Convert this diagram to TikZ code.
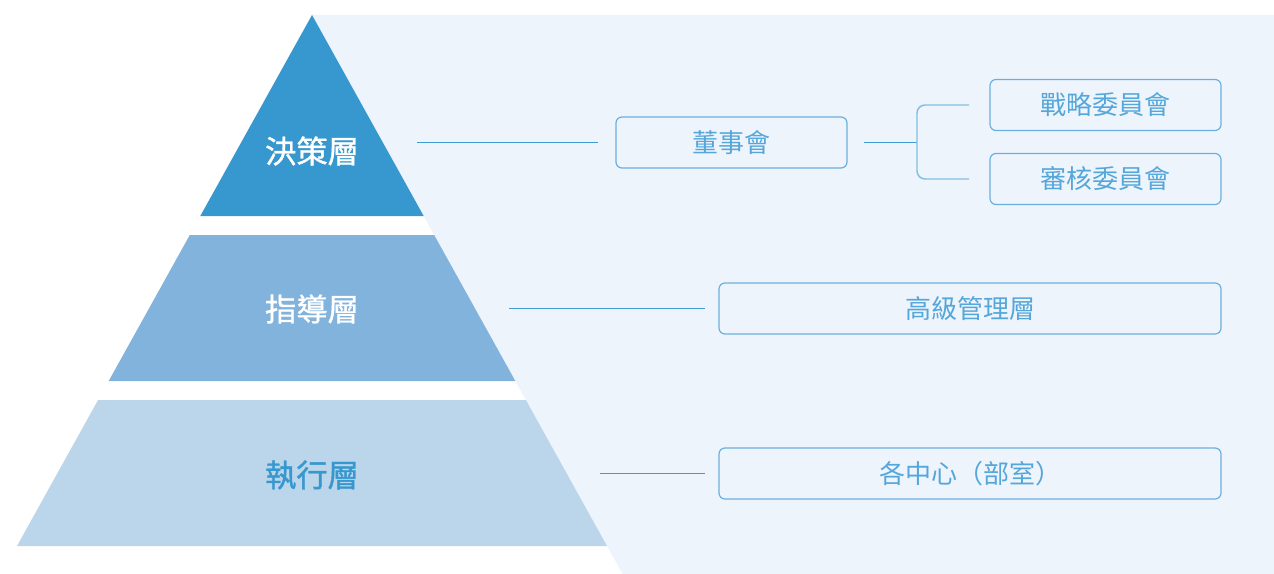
\documentclass[tikz,border=0pt]{standalone}
\usepackage{fontspec}
\newfontfamily\cjk{Noto Sans CJK TC}
\newfontfamily\cjkm[FakeBold=1.1]{Noto Sans CJK TC}
\definecolor{dark}{HTML}{3797CF}
\definecolor{mid}{HTML}{81B3DC}
\definecolor{light}{HTML}{BBD5EB}
\definecolor{panel}{HTML}{EEF4FC}
\definecolor{boxline}{HTML}{6AB0DE}
\definecolor{boxtext}{HTML}{55A7DA}
\definecolor{connc}{HTML}{3E9BD3}
\definecolor{brk}{HTML}{80BEE4}
\begin{document}
\begin{tikzpicture}[x=0.75pt,y=-0.75pt,
  layerlabel/.style={font=\cjkm\fontsize{23.5}{23.5}\selectfont, inner sep=0pt},
  orgbox/.style={draw=boxline, line width=0.9pt, rounded corners=4.5pt, fill=panel,
    text=boxtext, font=\cjk\fontsize{19.5}{19.5}\selectfont, inner sep=0pt,
    minimum height=51*0.75pt},
  connline/.style={draw=connc, line width=0.75pt},
  bracketline/.style={draw=brk, line width=1.1pt, rounded corners=6pt}]
\useasboundingbox (0,0) rectangle (1274,574);
\fill[white] (0,0) rectangle (1274,574);
% background panel
\fill[panel] (312,15) -- (1274,15) -- (1274,574) -- (622.6,574) -- cycle;
% pyramid layers
\fill[dark] (312,15) -- (423.7,216) -- (200.3,216) -- cycle;
\fill[mid] (189.8,235) -- (434.2,235) -- (515.3,381) -- (108.7,381) -- cycle;
\fill[light] (98.1,400) -- (525.9,400) -- (607,546) -- (17,546) -- cycle;
% layer labels
\node[layerlabel, text=white] (l1) at (312,151) {決策層};
\node[layerlabel, text=white] (l2) at (312,309) {指導層};
\node[layerlabel, text=dark] (l3) at (312,475) {執行層};
% boxes
\node[orgbox, minimum width=231*0.75pt] (board) at (731.5,142.5) {董事會};
\node[orgbox, minimum width=231*0.75pt] (strat) at (1105.5,105) {戰略委員會};
\node[orgbox, minimum width=231*0.75pt] (audit) at (1105.5,179) {審核委員會};
\node[orgbox, minimum width=502*0.75pt] (senior) at (970,308.5) {高級管理層};
\node[orgbox, minimum width=502*0.75pt] (depts) at (970,473.5) {各中心（部室）};
% connector start points
\coordinate (c1) at (417,142.5);
\coordinate (c2) at (509,308.5);
\coordinate (c3) at (600,473.5);
\coordinate (bk) at (917,142.5);
\coordinate (bt) at (969,105);
\coordinate (bb) at (969,179);
\draw[connline, shorten >=17*0.75pt] (c1) -- (board.west);
\draw[connline, shorten >=13*0.75pt] (c2) -- (senior.west);
\draw[connline, shorten >=13*0.75pt] (c3) -- (depts.west);
\draw[connline, shorten <=16*0.75pt] (board.east) -- (bk);
\draw[bracketline] (bt) -- (917,105) -- (917,179) -- (bb);
\end{tikzpicture}
\end{document}
